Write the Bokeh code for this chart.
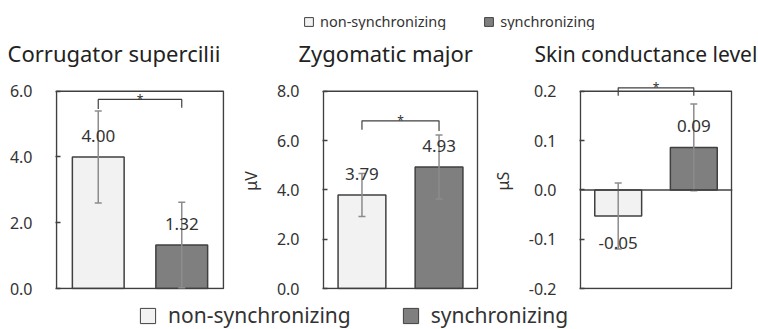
import numpy as np
from bokeh.plotting import figure
from bokeh.layouts import column, row
from bokeh.models import (Range1d, FixedTicker, NumeralTickFormatter, Span,
                          Legend, LegendItem, ColumnDataSource)
from bokeh.core.properties import value
from bokeh.embed import file_html
from bokeh.resources import INLINE

# ---------------- data ----------------
groups = ["non-synchronizing", "synchronizing"]
panel_titles = ["Corrugator supercilii", "Zygomatic major", "Skin conductance level"]
units = [None, "μV", "μS"]

corrugator_mean = [4.00, 1.32]
corrugator_err = [1.40, 1.30]
zygomatic_mean = [3.79, 4.93]
zygomatic_err = [0.87, 1.30]
scl_mean = [-0.053, 0.086]
scl_err = [0.067, 0.088]

y_limits = [(0.0, 6.0), (0.0, 8.0), (-0.2, 0.2)]
y_ticks = [[0, 2, 4, 6], [0, 2, 4, 6, 8], [-0.2, -0.1, 0.0, 0.1, 0.2]]

sig_level = [5.75, 6.80, 0.207]
sig_ends = [[5.46, 5.50], [6.44, 6.39], [0.191, 0.191]]
sig_mark = ["*", "*", "*"]

# ---------------- styles ----------------
FONT = "Noto Sans"
DARK = "#404040"
TEXT = "#333333"
fills = ["#f2f2f2", "#7f7f7f"]
ERR = "#8c8c8c"
HEADROOM = 19  # px of plot area above the drawn box


def panel(i, means, errs, width, bl, br, title_offset, title_size):
    lo, hi = y_limits[i]
    span = hi - lo
    n = len(groups)
    p = figure(width=width, height=270, output_backend="svg", toolbar_location=None,
               x_range=Range1d(-0.012, n + 0.012),
               y_range=Range1d(lo - span / 200, hi + span * HEADROOM / 200),
               min_border_left=bl, min_border_right=br,
               min_border_top=39, min_border_bottom=11)
    p.title.text = panel_titles[i]
    p.title.text_font = FONT
    p.title.text_font_style = "normal"
    p.title.text_font_size = title_size
    p.title.text_color = "#222222"
    p.title.align = "left"
    p.title.offset = title_offset
    p.title.standoff = 10
    p.outline_line_color = None
    p.grid.visible = False
    p.xaxis.visible = False

    ax = p.yaxis[0]
    ax.ticker = FixedTicker(ticks=y_ticks[i])
    ax.formatter = NumeralTickFormatter(format="0.0")
    ax.bounds = (lo, hi)
    ax.axis_line_color = None
    ax.major_tick_in = 5
    ax.major_tick_out = 0
    ax.major_tick_line_color = DARK
    ax.major_tick_line_width = 1.5
    ax.minor_tick_line_color = None
    ax.major_label_standoff = 23
    ax.major_label_text_font = FONT
    ax.major_label_text_font_size = "16px"
    ax.major_label_text_color = TEXT
    if units[i]:
        ax.axis_label = units[i]
        ax.axis_label_text_font = FONT
        ax.axis_label_text_font_style = "normal"
        ax.axis_label_text_font_size = "16px"
        ax.axis_label_text_color = TEXT
        ax.axis_label_standoff = 12

    x = np.arange(n) + 0.5
    src = ColumnDataSource(dict(
        x=x, top=means, color=fills,
        upper=[m + e for m, e in zip(means, errs)],
        lower=[m - e for m, e in zip(means, errs)],
        label=[f"{m:.2f}" for m in means],
        yoff=[-21 if m >= 0 else 27 for m in means],
    ))
    p.vbar(x="x", top="top", bottom=0, width=0.62, source=src,
           fill_color="color", line_color=DARK, line_width=1.5)
    if lo < 0:
        p.add_layout(Span(location=0, dimension="width", line_color=DARK, line_width=1.5))
    # frame box
    p.quad(left=[0], right=[n], bottom=[lo], top=[hi], fill_color=None,
           line_color=DARK, line_width=1.5)
    # error bars
    p.segment(x0="x", y0="lower", x1="x", y1="upper", source=src,
              line_color=ERR, line_width=1.5)
    p.scatter(x="x", y="upper", source=src, marker="dash", size=7,
              line_color=ERR, line_width=1.5)
    p.scatter(x="x", y="lower", source=src, marker="dash", size=7,
              line_color=ERR, line_width=1.5)
    # value labels
    p.text(x="x", y="top", text="label", y_offset="yoff", source=src,
           text_align="center", text_baseline="middle",
           text_font=value(FONT), text_font_size=value("17px"), text_color=TEXT)
    # significance bracket
    e0, e1 = sig_ends[i]
    lvl = sig_level[i]
    p.line(x=[x[0], x[0], x[1], x[1]], y=[e0, lvl, lvl, e1],
           line_color=DARK, line_width=1.2)
    p.text(x=[x.mean()], y=[lvl], text=[sig_mark[i]], text_align="center",
           text_baseline="middle", text_font=value(FONT),
           text_font_size=value("12px"), text_color=TEXT)
    return p


p1 = panel(0, corrugator_mean, corrugator_err, 236, 55, 12, -48, "22px")
p2 = panel(1, zygomatic_mean, zygomatic_err, 252, 70, 10, -24, "22px")
p3 = panel(2, scl_mean, scl_err, 270, 77, 26, -45, "21px")


def legend_fig(height, loc, glyph, font_size, standoff, spacing):
    f = figure(width=758, height=height, output_backend="svg", toolbar_location=None,
               x_range=Range1d(0, 1), y_range=Range1d(0, 1),
               x_axis_type=None, y_axis_type=None, min_border=0)
    f.outline_line_color = None
    f.grid.visible = False
    rs = []
    for k, c in enumerate(fills):
        r = f.vbar(x=[k], top=[1], width=0.5, fill_color=c, line_color=DARK, line_width=1)
        r.visible = False
        rs.append(r)
    leg = Legend(items=[LegendItem(label=g, renderers=[r]) for g, r in zip(groups, rs)],
                 orientation="horizontal", location=loc,
                 glyph_width=glyph, glyph_height=glyph,
                 label_text_font=FONT, label_text_font_size=font_size,
                 label_text_color=TEXT, label_standoff=standoff, spacing=spacing,
                 padding=0, margin=0, border_line_color=None,
                 background_fill_alpha=0,
                 inactive_fill_alpha=0)
    f.add_layout(leg)
    return f


top_leg = legend_fig(30, (303, -1), 11, "14.5px", 6, 37)
bot_leg = legend_fig(29, (138, 0), 19, "21px", 11, 50)

layout = column(top_leg, row(p1, p2, p3), bot_leg)

with open("out.html", "w") as fh:
    fh.write(file_html(layout, INLINE))
